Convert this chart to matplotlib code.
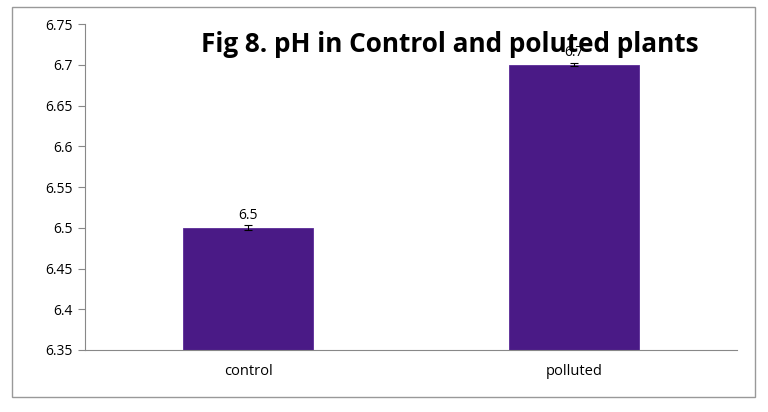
import matplotlib
matplotlib.use('Agg')
import matplotlib.pyplot as plt
import matplotlib.patches as mpatches

categories = ['control', 'polluted']
ph_values = [6.5, 6.7]
ph_err = [0.003, 0.002]
labels = ['6.5', '6.7']

plt.rcParams['font.family'] = ['Open Sans', 'DejaVu Sans']

fig = plt.figure(figsize=(7.68, 4.12), dpi=100)
ax = fig.add_axes([0.1107, 0.1505, 0.849, 0.791])

x = range(len(categories))
ax.bar(x, ph_values, width=0.4, color='#4a1a86', edgecolor='#5a2a98', linewidth=0.6,
       yerr=ph_err, capsize=3, error_kw=dict(ecolor='black', elinewidth=0.8, capthick=0.8))
for xi, v, lab in zip(x, ph_values, labels):
    ax.text(xi, v + 0.006, lab, ha='center', va='bottom', fontsize=10, zorder=1)

ax.set_xlim(-0.5, 1.5)
ax.set_ylim(6.35, 6.75)
ax.set_yticks([6.35, 6.4, 6.45, 6.5, 6.55, 6.6, 6.65, 6.7, 6.75])
ax.set_yticklabels(['6.35', '6.4', '6.45', '6.5', '6.55', '6.6', '6.65', '6.7', '6.75'])
ax.set_xticks(list(x))
ax.set_xticklabels(categories)
ax.tick_params(axis='y', labelsize=10, color='#888888', length=5, pad=4)
ax.tick_params(axis='x', labelsize=10.5, length=0, pad=10)
for s in ['top', 'right']:
    ax.spines[s].set_visible(False)
for s in ['left', 'bottom']:
    ax.spines[s].set_color('#888888')

fig.text(0.586, 0.874, 'Fig 8. pH in Control and poluted plants', ha='center', va='baseline',
         fontsize=18.8, fontweight='bold', zorder=5)

border = mpatches.Rectangle((0.0156, 0.0364), 0.967, 0.947, transform=fig.transFigure,
                            fill=False, edgecolor='#999999', linewidth=1)
fig.patches.append(border)

fig.savefig('out.png', dpi=100)
